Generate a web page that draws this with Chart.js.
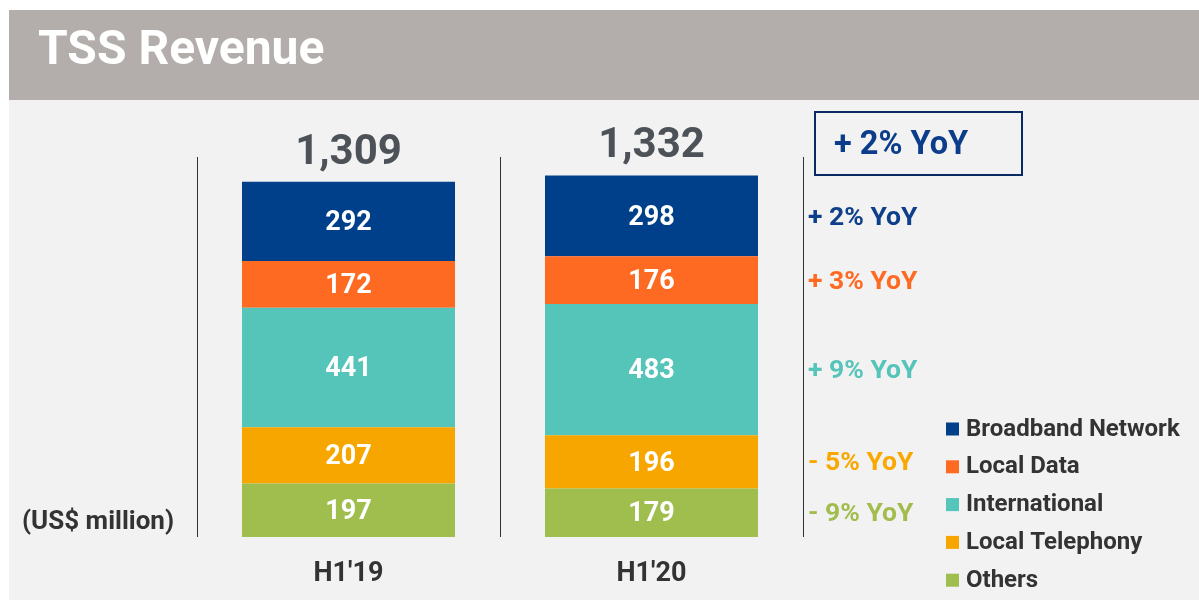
<!DOCTYPE html>
<html>
<head>
<meta charset="utf-8">
<script src="https://cdn.jsdelivr.net/npm/chart.js@4/dist/chart.umd.min.js"></script>
<style>
  html, body { margin: 0; padding: 0; background: #fff; }
</style>
</head>
<body>
<canvas id="canvas" width="1199" height="601"></canvas>
<script>
// data, stacked bottom to top
const periods = ["H1'19", "H1'20"];
const segmentNames = ["Others", "Local Telephony", "International", "Local Data", "Broadband Network"];
const others = [197, 179];
const localTelephony = [207, 196];
const international = [441, 483];
const localData = [172, 176];
const broadband = [292, 298];
const totals = ["1,309", "1,332"];
const yoyLabels = ["- 9% YoY", "- 5% YoY", "+ 9% YoY", "+ 3% YoY", "+ 2% YoY"];
const totalYoy = "+ 2% YoY";
const unitLabel = "(US$ million)";
const title = "TSS Revenue";

const barColors = ["#a0be4e", "#f7a600", "#55c4b9", "#ff6a22", "#00408a"];
const yoyColors = ["#a2bd4e", "#f9a800", "#55c4b9", "#ff6a22", "#0d3f8a"];
const FONT = "Roboto";

const seriesValues = [others, localTelephony, international, localData, broadband];

const pagePlugin = {
  id: "page",
  beforeDraw(chart) {
    const c = chart.ctx;
    c.save();
    c.fillStyle = "#ffffff";
    c.fillRect(0, 0, chart.width, chart.height);
    c.fillStyle = "#f2f2f2";
    c.fillRect(9, 100, 1190, 500);
    c.fillStyle = "#b3aeab";
    c.fillRect(9, 10, 1190, 90);
    c.fillStyle = "#ffffff";
    c.font = "bold 48px " + FONT;
    c.textAlign = "left";
    c.textBaseline = "alphabetic";
    c.fillText(title, 38, 64);
    c.restore();
  },
  afterDatasetsDraw(chart) {
    const c = chart.ctx;
    const area = chart.chartArea;
    c.save();
    // values inside segments
    c.fillStyle = "#ffffff";
    c.font = "bold 27px " + FONT;
    c.textAlign = "center";
    c.textBaseline = "middle";
    chart.data.datasets.forEach((ds, i) => {
      chart.getDatasetMeta(i).data.forEach((bar, j) => {
        c.fillText(String(ds.data[j]), bar.x, (bar.y + bar.base) / 2 + 2);
      });
    });
    // totals
    const top = chart.getDatasetMeta(chart.data.datasets.length - 1).data;
    c.fillStyle = "#4d5258";
    c.font = "bold 42px " + FONT;
    c.textBaseline = "alphabetic";
    top.forEach((bar, j) => c.fillText(totals[j], bar.x, bar.y - 18));
    // yoy per segment, next to second bar
    c.font = "bold 26.5px " + FONT;
    c.textAlign = "left";
    c.textBaseline = "middle";
    chart.data.datasets.forEach((ds, i) => {
      const bar = chart.getDatasetMeta(i).data[1];
      c.fillStyle = yoyColors[i];
      c.fillText(yoyLabels[i], area.right + 5, (bar.y + bar.base) / 2 + 2);
    });
    // boxed total yoy
    c.strokeStyle = "#0a2a66";
    c.lineWidth = 2;
    c.strokeRect(815, 112, 207, 63);
    c.fillStyle = "#0b3d8a";
    c.font = "bold 32.5px " + FONT;
    c.fillText(totalYoy, 834, 146);
    // unit
    c.fillStyle = "#333333";
    c.font = "bold 26px " + FONT;
    c.fillText(unitLabel, 22, 522);
    // legend, top to bottom
    c.font = "bold 24px " + FONT;
    for (let k = 0; k < segmentNames.length; k++) {
      const i = segmentNames.length - 1 - k;
      const y = 429.5 + k * 37.8;
      c.fillStyle = barColors[i];
      c.fillRect(946, y - 7, 13, 13);
      c.fillStyle = "#333333";
      c.fillText(segmentNames[i], 966, y);
    }
    c.restore();
  }
};

const ctx = document.getElementById("canvas").getContext("2d");
new Chart(ctx, {
  type: "bar",
  data: {
    labels: periods,
    datasets: seriesValues.map((vals, i) => ({
      label: segmentNames[i],
      data: vals,
      backgroundColor: barColors[i],
      borderWidth: 0,
      barPercentage: 0.703,
      categoryPercentage: 1
    }))
  },
  options: {
    responsive: false,
    devicePixelRatio: 1,
    animation: false,
    layout: { padding: { left: 197, right: 396, top: 157, bottom: 0 } },
    plugins: { legend: { display: false }, tooltip: { enabled: false } },
    scales: {
      x: {
        stacked: true,
        afterFit: (s) => { s.height = 64; },
        grid: { display: true, offset: true, color: "#333333", lineWidth: 1, drawTicks: false },
        border: { display: false },
        ticks: { color: "#333333", font: { family: FONT, size: 27, weight: "bold" }, padding: 21 }
      },
      y: {
        stacked: true,
        display: false,
        min: 0,
        max: 1400
      }
    }
  },
  plugins: [pagePlugin]
});
</script>
</body>
</html>
